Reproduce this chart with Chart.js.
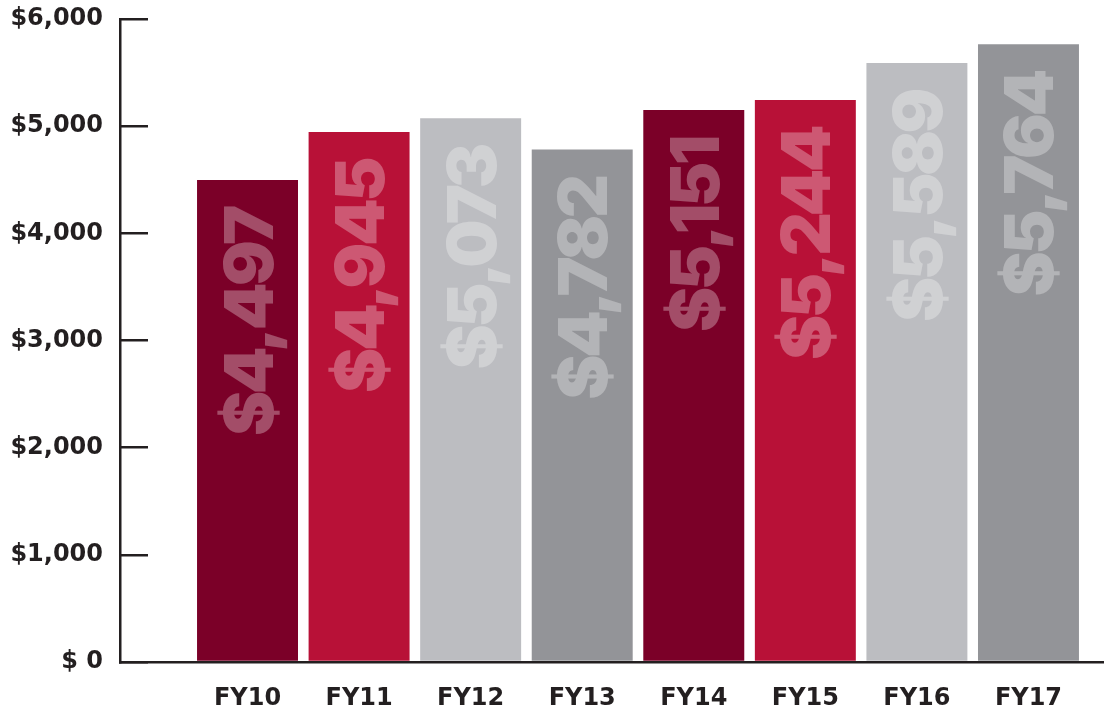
<!DOCTYPE html>
<html>
<head>
<meta charset="utf-8">
<script src="https://cdn.jsdelivr.net/npm/chart.js@4/dist/chart.umd.min.js"></script>
<style>
  html, body { margin: 0; padding: 0; background: #fff; }
  #wrap { width: 1104px; height: 710px; }
</style>
</head>
<body>
<div id="wrap"><canvas id="myChart"></canvas></div>
<script>
// Data
const CATEGORIES = ['FY10', 'FY11', 'FY12', 'FY13', 'FY14', 'FY15', 'FY16', 'FY17'];
const VALUES = [4497, 4945, 5073, 4782, 5151, 5244, 5589, 5764];
const Y_TICKS = [0, 1000, 2000, 3000, 4000, 5000, 6000];

// Constants
const COLORS = {
    DARK_RED: '#7b0028',
    RED: '#b81137',
    LIGHT_GRAY: '#bcbdc1',
    GRAY: '#939498',
    AXIS: '#231f20',
    VALUE_TEXT: 'rgba(255, 255, 255, 0.3)'
};
const BAR_COLORS = [COLORS.DARK_RED, COLORS.RED, COLORS.LIGHT_GRAY, COLORS.GRAY];

Chart.defaults.font.family = "'DejaVu Sans', sans-serif";
Chart.defaults.color = COLORS.AXIS;

function formatDollars(value) {
    if (value === 0) return '$ 0';
    return '$' + value.toLocaleString('en-US');
}

// Draw the rotated value inside each bar
const valueLabels = {
    id: 'valueLabels',
    afterDatasetsDraw(chart) {
        const { ctx } = chart;
        const meta = chart.getDatasetMeta(0);
        ctx.save();
        ctx.font = "900 68px Inter, Lato, sans-serif";
        ctx.letterSpacing = '-3.5px';
        ctx.fillStyle = COLORS.VALUE_TEXT;
        ctx.textAlign = 'right';
        ctx.textBaseline = 'alphabetic';
        meta.data.forEach((bar, i) => {
            ctx.save();
            ctx.translate(bar.x + 25, bar.y + 28);
            ctx.rotate(-Math.PI / 2);
            ctx.fillText(formatDollars(VALUES[i]), 0, 0);
            ctx.restore();
        });
        ctx.restore();
    }
};

const dataset = {
    datasets: [{
        data: VALUES.map((v, i) => ({ x: i, y: v })),
        backgroundColor: VALUES.map((v, i) => BAR_COLORS[i % BAR_COLORS.length]),
        borderWidth: 0,
        categoryPercentage: 1,
        barPercentage: 0.905
    }]
};

const options = {
    responsive: true,
    maintainAspectRatio: false,
    animation: false,
    layout: { padding: { top: 19, right: 1, left: 0, bottom: 0 } },
    plugins: {
        legend: { display: false },
        tooltip: { enabled: false }
    },
    scales: {
        x: {
            type: 'linear',
            min: -1.143,
            max: 7.668,
            bounds: 'data',
            offset: false,
            afterBuildTicks: (scale) => { scale.ticks = CATEGORIES.map((c, i) => ({ value: i })); },
            afterFit: (scale) => {
                scale.height = 48;
                scale.paddingLeft = 0;
                scale.paddingRight = 0;
            },
            grid: { drawOnChartArea: false, drawTicks: false },
            border: { display: true, color: COLORS.AXIS, width: 2.5, z: 1 },
            ticks: {
                autoSkip: false,
                maxRotation: 0,
                padding: 22,
                font: { size: 24, weight: 'bold' },
                callback: (value) => CATEGORIES[value] ?? ''
            }
        },
        y: {
            min: 0,
            max: 6000,
            afterFit: (scale) => {
                scale.width = 120;
                scale.paddingTop = 0;
                scale.paddingBottom = 0;
            },
            afterBuildTicks: (scale) => { scale.ticks = Y_TICKS.map(v => ({ value: v })); },
            grid: {
                drawOnChartArea: false,
                drawTicks: true,
                tickLength: -28,
                color: COLORS.AXIS,
                lineWidth: 2.5
            },
            border: { display: true, color: COLORS.AXIS, width: 2.5, z: 1 },
            ticks: {
                padding: 45,
                font: { size: 24, weight: 'bold' },
                callback: (value) => formatDollars(value)
            }
        }
    }
};

new Chart(document.getElementById('myChart'), {
    type: 'bar',
    data: dataset,
    options: options,
    plugins: [valueLabels]
});
</script>
</body>
</html>
